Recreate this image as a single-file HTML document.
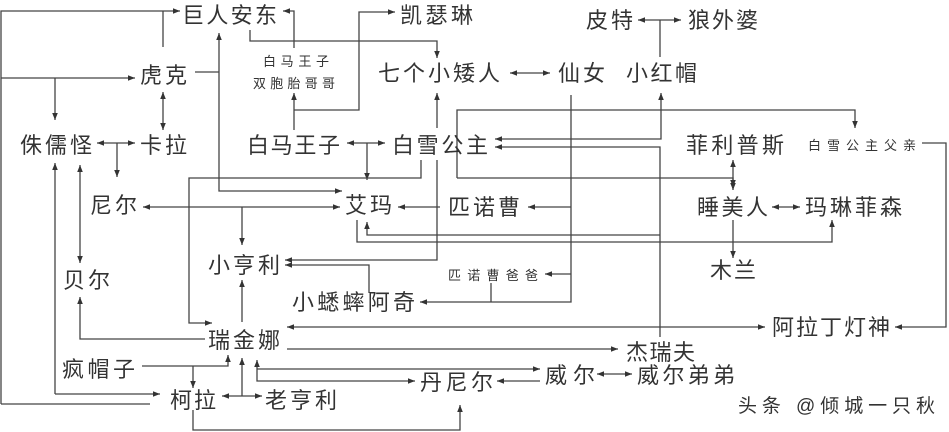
<!DOCTYPE html>
<html><head><meta charset="utf-8"><style>
html,body{margin:0;padding:0;background:#fff;}
svg{display:block;}
text{font-family:"Liberation Sans","Noto Sans CJK SC",sans-serif;fill:#333;}
</style></head><body>
<svg width="949" height="432" viewBox="0 0 949 432" xmlns="http://www.w3.org/2000/svg">
<defs>
<marker id="a" viewBox="0 0 10 10" refX="10" refY="5" markerWidth="7" markerHeight="7" orient="auto-start-reverse" markerUnits="userSpaceOnUse"><path d="M0,1 L10,5 L0,9 z" fill="#333"/></marker>
</defs>
<g stroke="#444" stroke-width="1.3" fill="none">
<!-- left border lines -->
<polyline points="1,404 1,11 180,11" marker-end="url(#a)"/>
<polyline points="1,404 150,404"/>
<polyline points="163,47 163,11"/>
<polyline points="1,78 135,78" marker-end="url(#a)"/>
<polyline points="55,78 55,120" marker-end="url(#a)"/>
<polyline points="55,394 55,163" marker-end="url(#a)"/>
<polyline points="55,394 160,394" marker-end="url(#a)"/>
<polyline points="80,165 80,263" marker-start="url(#a)" marker-end="url(#a)"/>
<!-- hook -->
<polyline points="195,72 219,72"/>
<polyline points="219,33 219,191 342,191" marker-start="url(#a)" marker-end="url(#a)"/>
<polyline points="163,92 163,130" marker-start="url(#a)" marker-end="url(#a)"/>
<polyline points="97,143 135,143" marker-start="url(#a)" marker-end="url(#a)"/>
<polyline points="117,143 117,177" marker-end="url(#a)"/>
<!-- anton -->
<polyline points="294,48 294,11 283,11" marker-end="url(#a)"/>
<polyline points="250,30 250,41 437,41 437,58" marker-end="url(#a)"/>
<polyline points="294,130 294,93" marker-end="url(#a)"/>
<polyline points="294,110 359,110 359,12 395,12" marker-end="url(#a)"/>
<!-- prince/snow -->
<polyline points="347,143 385,143" marker-start="url(#a)" marker-end="url(#a)"/>
<polyline points="367,143 367,180" marker-end="url(#a)"/>
<polyline points="421,160 421,178 189,178 189,323 212,323" marker-end="url(#a)"/>
<polyline points="437,128 437,93" marker-end="url(#a)"/>
<polyline points="437,160 437,260 285,260" marker-end="url(#a)"/>
<polyline points="510,73 550,73" marker-start="url(#a)" marker-end="url(#a)"/>
<polyline points="571,95 571,302 420,302" marker-end="url(#a)"/>
<polyline points="571,207 528,207" marker-end="url(#a)"/>
<polyline points="571,274 545,274" marker-end="url(#a)"/>
<polyline points="491,283 491,302"/>
<polyline points="638,20 681,20" marker-start="url(#a)" marker-end="url(#a)"/>
<polyline points="660,20 660,57"/>
<polyline points="661,93 661,139 495,139" marker-start="url(#a)" marker-end="url(#a)"/>
<polyline points="495,147 660,147 660,337" marker-start="url(#a)"/>
<polyline points="457,178 457,110 855,110 855,128" marker-end="url(#a)"/>
<polyline points="457,178 733,178 733,190" marker-end="url(#a)"/>
<polyline points="733,160 733,187" marker-start="url(#a)" marker-end="url(#a)"/>
<polyline points="772,207 800,207" marker-start="url(#a)" marker-end="url(#a)"/>
<polyline points="733,220 733,258" marker-end="url(#a)"/>
<polyline points="922,143 946,143 946,327 895,327" marker-end="url(#a)"/>
<!-- emma -->
<polyline points="440,207 398,207" marker-end="url(#a)"/>
<polyline points="143,207 340,207" marker-start="url(#a)" marker-end="url(#a)"/>
<polyline points="242,207 242,245" marker-end="url(#a)"/>
<polyline points="367,222 367,235 660,235" marker-start="url(#a)"/>
<polyline points="357,220 357,242 832,242 832,220" marker-end="url(#a)"/>
<polyline points="369,293 369,265 285,265" marker-end="url(#a)"/>
<polyline points="242,322 242,280" marker-end="url(#a)"/>
<polyline points="205,339 80,339 80,297" marker-end="url(#a)"/>
<polyline points="287,327 765,327" marker-start="url(#a)" marker-end="url(#a)"/>
<polyline points="287,349 618,349" marker-end="url(#a)"/>
<!-- bottom -->
<polyline points="142,366 228,366 228,355" marker-end="url(#a)"/>
<polyline points="193,366 193,388" marker-end="url(#a)"/>
<polyline points="222,396 262,396" marker-start="url(#a)" marker-end="url(#a)"/>
<polyline points="242,396 242,358" marker-end="url(#a)"/>
<polyline points="257,360 257,381 415,381" marker-start="url(#a)" marker-end="url(#a)"/>
<polyline points="257,369 540,369" marker-end="url(#a)"/>
<polyline points="540,381 497,381" marker-end="url(#a)"/>
<polyline points="193,410 193,430 460,430 460,405" marker-end="url(#a)"/>
<polyline points="597,374 632,374" marker-start="url(#a)" marker-end="url(#a)"/>
</g>
<g font-size="22">
<text x="182" y="23" textLength="95">巨人安东</text>
<text x="400" y="23" textLength="73">凯瑟琳</text>
<text x="586" y="28" textLength="47">皮特</text>
<text x="688" y="28" textLength="70">狼外婆</text>
<text x="140" y="83" textLength="47">虎克</text>
<text x="378" y="81" textLength="122">七个小矮人</text>
<text x="558" y="81" textLength="47">仙女</text>
<text x="626" y="81" textLength="71">小红帽</text>
<text x="20" y="153" textLength="72">侏儒怪</text>
<text x="140" y="153" textLength="47">卡拉</text>
<text x="247" y="153" textLength="93">白马王子</text>
<text x="392" y="153" textLength="96">白雪公主</text>
<text x="686" y="153" textLength="98">菲利普斯</text>
<text x="90" y="213" textLength="47">尼尔</text>
<text x="345" y="213" textLength="47">艾玛</text>
<text x="448" y="215" textLength="72">匹诺曹</text>
<text x="697" y="215" textLength="71">睡美人</text>
<text x="805" y="215" textLength="97">玛琳菲森</text>
<text x="208" y="273" textLength="72">小亨利</text>
<text x="710" y="278" textLength="46">木兰</text>
<text x="63" y="288" textLength="47">贝尔</text>
<text x="292" y="310" textLength="123">小蟋蟀阿奇</text>
<text x="208" y="348" textLength="72">瑞金娜</text>
<text x="772" y="335" textLength="118">阿拉丁灯神</text>
<text x="626" y="360" textLength="69">杰瑞夫</text>
<text x="62" y="377" textLength="73">疯帽子</text>
<text x="545" y="383" textLength="50">威尔</text>
<text x="637" y="383" textLength="98">威尔弟弟</text>
<text x="170" y="408" textLength="46">柯拉</text>
<text x="265" y="408" textLength="72">老亨利</text>
<text x="420" y="390" textLength="73">丹尼尔</text>
</g>
<g font-size="13">
<text x="263" y="66" textLength="66">白马王子</text>
<text x="253" y="88" textLength="82">双胞胎哥哥</text>
<text x="808" y="150" textLength="108">白雪公主父亲</text>
<text x="448" y="280" textLength="90">匹诺曹爸爸</text>
</g>
<text x="738" y="412" font-size="19" textLength="197" fill="#222">头条 @倾城一只秋</text>
</svg>
</body></html>
